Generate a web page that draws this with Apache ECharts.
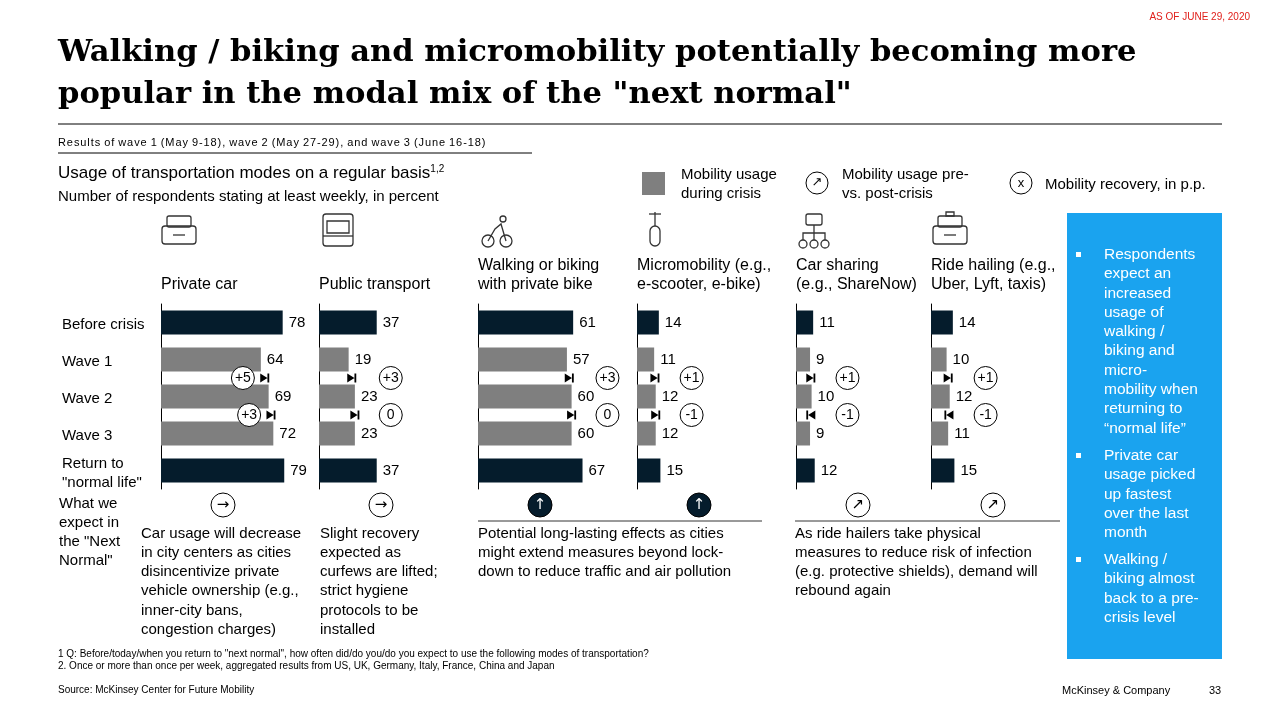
<!DOCTYPE html>
<html><head><meta charset="utf-8">
<script src="https://cdn.jsdelivr.net/npm/echarts@6/dist/echarts.min.js"></script>
<style>html,body{margin:0;padding:0;background:#fff}#c{width:1280px;height:720px}</style>
</head><body><div id="c"></div>
<script>
const modes = ['Private car','Public transport','Walking or biking\nwith private bike','Micromobility (e.g.,\ne-scooter, e-bike)','Car sharing\n(e.g., ShareNow)','Ride hailing (e.g.,\nUber, Lyft, taxis)'];
const rows = ['Before crisis','Wave 1','Wave 2','Wave 3','Return to\n"normal life"'];
const beforeCrisis = [78,37,61,14,11,14];
const wave1 = [64,19,57,11,9,10];
const wave2 = [69,23,60,12,10,12];
const wave3 = [72,23,60,12,9,11];
const returnNormal = [79,37,67,15,12,15];
const recovery12 = ['+5','+3','+3','+1','+1','+1'];
const recovery23 = ['+3','0','0','-1','-1','-1'];
const outlook = ['→','→','↑','↑','↗','↗'];
const comments = [
 'Car usage will decrease\nin city centers as cities\ndisincentivize private\nvehicle ownership (e.g.,\ninner-city bans,\ncongestion charges)',
 'Slight recovery\nexpected as\ncurfews are lifted;\nstrict hygiene\nprotocols to be\ninstalled',
 'Potential long-lasting effects as cities\nmight extend measures beyond lock-\ndown to reduce traffic and air pollution',
 '',
 'As ride hailers take physical\nmeasures to reduce risk of infection\n(e.g. protective shields), demand will\nrebound again',
 ''];
const bullets = ['Respondents\nexpect an\nincreased\nusage of\nwalking /\nbiking and\nmicro-\nmobility when\nreturning to\n“normal life”','Private car\nusage picked\nup fastest\nover the last\nmonth','Walking /\nbiking almost\nback to a pre-\ncrisis level'];

const F = 'Liberation Sans, Arial, sans-serif';
const DARK = '#051c2c', GRAY = '#7f7f7f';
const lefts = [161,319,478,637,796,931];
const commentX = [141,320,478,0,795,0];
const grids=[], xAxes=[], yAxes=[], series=[];
const T = (x,y,text,size,extra)=>Object.assign({type:'text',left:x,top:y,style:Object.assign({text,fontSize:size||15,fontFamily:F,fill:'#000',lineHeight:Math.round((size||15)*1.27)},extra||{})});
const graphics=[{type:'rect',shape:{x:1067,y:213,width:155,height:446},style:{fill:'#1aa3ef'}}];
const rightMark='path://M0,0 L8,5 L0,10 Z M8,0 L10,0 L10,10 L8,10 Z';
const leftMark='path://M10,0 L2,5 L10,10 Z M0,0 L2,0 L2,10 L0,10 Z';

lefts.forEach((l,i)=>{
  grids.push({left:l,top:304,width:156,height:185});
  xAxes.push({gridIndex:i,type:'value',min:0,max:100,show:false});
  yAxes.push({gridIndex:i,type:'category',inverse:true,data:rows,axisLine:{show:true,lineStyle:{color:'#000',width:1}},axisTick:{show:false},axisLabel:{show:false}});
  yAxes.push({gridIndex:i,type:'value',min:0,max:5,inverse:true,show:false});
  const vals=[beforeCrisis[i],wave1[i],wave2[i],wave3[i],returnNormal[i]];
  series.push({type:'bar',xAxisIndex:i,yAxisIndex:2*i,barWidth:24,
    data:vals.map((v,k)=>({value:v,itemStyle:{color:(k==0||k==4)?DARK:GRAY}})),
    label:{show:true,position:'right',distance:6,fontSize:15,fontFamily:F,color:'#000'}});
  const marks=[[wave1[i],wave2[i],2],[wave2[i],wave3[i],3]];
  series.push({type:'scatter',xAxisIndex:i,yAxisIndex:2*i+1,z:5,
    data:marks.map(m=>({value:[(m[0]+m[1])/2,m[2]],symbol:(m[1]<m[0])?leftMark:rightMark})),
    symbolSize:[9,9],itemStyle:{color:'#000',opacity:1}});
  const dl=[recovery12[i],recovery23[i]];
  const maxW=Math.max(wave1[i],wave2[i],wave3[i]);
  series.push({type:'scatter',xAxisIndex:i,yAxisIndex:2*i+1,z:6,symbol:'circle',symbolSize:23,
    itemStyle:{color:'#fff',borderColor:'#000',borderWidth:1,opacity:1},
    data:marks.map((m,k)=>({value:[i==0?(m[0]+m[1])/2-14:maxW+23,m[2]],d:dl[k]})),
    label:{show:true,position:'inside',formatter:p=>p.data.d,fontSize:14,fontFamily:F,color:'#000',opacity:1}});
  const lines=modes[i].split('\n');
  graphics.push(T(l,lines.length==2?256:275,modes[i],16,{lineHeight:19}));
  const cx=l+62, filled=outlook[i]=='↑';
  graphics.push({type:'circle',shape:{cx:cx,cy:505,r:12},style:{fill:filled?DARK:'#fff',stroke:'#000',lineWidth:1}});
  graphics.push({type:'text',x:cx,y:505,style:{text:outlook[i],fontSize:15,fontFamily:'DejaVu Sans',fill:filled?'#fff':'#000',align:'center',verticalAlign:'middle'}});
  if(comments[i]) graphics.push(T(commentX[i],524,comments[i],15,{lineHeight:19.2}));
});
const iconX=[179,338,497,655,814,950];
iconX.forEach((x,i)=>{
  const s={fill:'none',stroke:'#333',lineWidth:1.3};
  if(i==0||i==5){graphics.push({type:'rect',shape:{x:x-17,y:226,width:34,height:18,r:3},style:s},{type:'rect',shape:{x:x-12,y:216,width:24,height:11,r:2},style:s},{type:'line',shape:{x1:x-6,y1:235,x2:x+6,y2:235},style:s});
    if(i==5)graphics.push({type:'rect',shape:{x:x-4,y:212,width:8,height:4},style:s});}
  if(i==1){graphics.push({type:'rect',shape:{x:x-15,y:214,width:30,height:32,r:3},style:s},{type:'line',shape:{x1:x-15,y1:236,x2:x+15,y2:236},style:s},{type:'rect',shape:{x:x-11,y:221,width:22,height:12},style:s});}
  if(i==2){graphics.push({type:'circle',shape:{cx:x-9,cy:241,r:6},style:s},{type:'circle',shape:{cx:x+9,cy:241,r:6},style:s},{type:'circle',shape:{cx:x+6,cy:219,r:3},style:s},{type:'polyline',shape:{points:[[x-9,241],[x-2,229],[x+4,224],[x+9,241]]},style:s});}
  if(i==3){graphics.push({type:'rect',shape:{x:x-5,y:226,width:10,height:20,r:5},style:s},{type:'line',shape:{x1:x,y1:212,x2:x,y2:226},style:s},{type:'line',shape:{x1:x-6,y1:214,x2:x+6,y2:214},style:s});}
  if(i==4){graphics.push({type:'rect',shape:{x:x-8,y:214,width:16,height:11,r:2},style:s},{type:'circle',shape:{cx:x-11,cy:244,r:4},style:s},{type:'circle',shape:{cx:x,cy:244,r:4},style:s},{type:'circle',shape:{cx:x+11,cy:244,r:4},style:s},{type:'polyline',shape:{points:[[x-11,240],[x-11,233],[x+11,233],[x+11,240]]},style:s},{type:'line',shape:{x1:x,y1:225,x2:x,y2:240},style:s});}
});
const bulletTop=[245,446,550];
bullets.forEach((b,k)=>{
  graphics.push({type:'rect',shape:{x:1076,y:bulletTop[k]+7,width:5,height:5},style:{fill:'#fff'}});
  graphics.push(T(1104,bulletTop[k],b,15.5,{fill:'#fff',lineHeight:19.3}));
});
graphics.push(
 {type:'text',right:30,top:12,style:{text:'AS OF JUNE 29, 2020',fontSize:10,fontFamily:F,fill:'#e0201b'}},
 T(58,32,'Walking / biking and micromobility potentially becoming more\npopular in the modal mix of the "next normal"',30.6,{fontFamily:'DejaVu Serif, Georgia, serif',fontWeight:'bold',lineHeight:42,fill:'#000'}),
 {type:'line',shape:{x1:58,y1:124,x2:1222,y2:124},style:{stroke:'#000',lineWidth:1}},
 T(58,136,'R e s u l t s  o f  w a v e  1  ( M a y  9 - 1 8 ) ,  w a v e  2  ( M a y  2 7 - 2 9 ) ,  a n d  w a v e  3  ( J u n e  1 6 - 1 8 )'.replace(/ (?! )/g,'\u200A').replace(/  /g,' '),11),
 {type:'line',shape:{x1:58,y1:153,x2:532,y2:153},style:{stroke:'#000',lineWidth:1}},
 {type:'text',left:58,top:164,style:{rich:{a:{fontSize:17,fontFamily:F},s:{fontSize:10,fontFamily:F,verticalAlign:'top',padding:[0,0,8,0]}},text:'{a|Usage of transportation modes on a regular basis}{s|1,2}'}},
 T(58,187,'Number of respondents stating at least weekly, in percent',15),
 {type:'rect',shape:{x:642,y:172,width:23,height:23},style:{fill:GRAY}},
 T(681,165,'Mobility usage\nduring crisis',15,{lineHeight:19}),
 {type:'circle',shape:{cx:817,cy:183,r:11},style:{fill:'#fff',stroke:'#000'}},
 {type:'text',x:817,y:183,style:{text:'↗',fontSize:13,fontFamily:'DejaVu Sans',align:'center',verticalAlign:'middle'}},
 T(842,165,'Mobility usage pre-\nvs. post-crisis',15,{lineHeight:19}),
 {type:'circle',shape:{cx:1021,cy:183,r:11},style:{fill:'#fff',stroke:'#000'}},
 {type:'text',x:1021,y:183,style:{text:'x',fontSize:13,fontFamily:F,align:'center',verticalAlign:'middle'}},
 T(1045,175,'Mobility recovery, in p.p.',15),
 T(62,315,rows[0],15),T(62,352,rows[1],15),T(62,389,rows[2],15),T(62,426,rows[3],15),
 T(62,454,rows[4],15,{lineHeight:19}),
 T(59,494,'What we\nexpect in\nthe "Next\nNormal"',15,{lineHeight:19.2}),
 {type:'line',shape:{x1:478,y1:521,x2:762,y2:521},style:{stroke:'#000',lineWidth:0.8}},
 {type:'line',shape:{x1:795,y1:521,x2:1060,y2:521},style:{stroke:'#000',lineWidth:0.8}},
 T(58,648,'1 Q: Before/today/when you return to "next normal", how often did/do you/do you expect to use the following modes of transportation?',10),
 T(58,660,'2. Once or more than once per week, aggregated results from US, UK, Germany, Italy, France, China and Japan',10),
 T(58,684,'Source: McKinsey Center for Future Mobility',10),
 T(1062,684,'McKinsey & Company',11),
 T(1209,684,'33',11)
);
const chart=echarts.init(document.getElementById('c'));
chart.setOption({animation:false,grid:grids,xAxis:xAxes,yAxis:yAxes,series:series,graphic:graphics});
</script></body></html>
